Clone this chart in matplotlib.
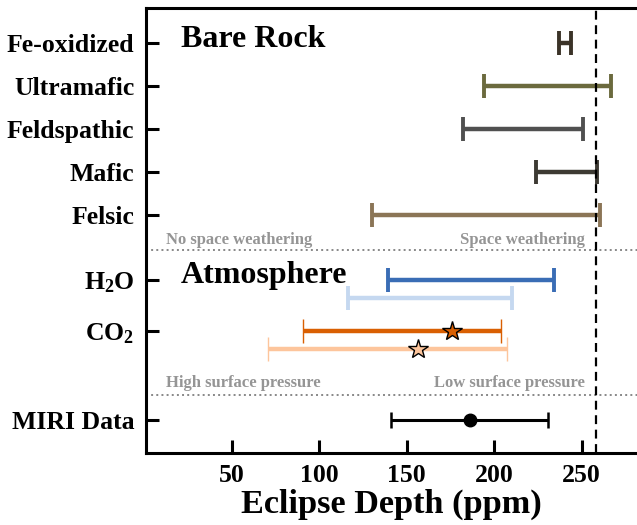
import matplotlib
matplotlib.use("Agg")
import matplotlib.pyplot as plt
import numpy as np

plt.rcParams['font.family'] = ['Liberation Serif', 'DejaVu Serif']
plt.rcParams['font.weight'] = 'bold'
plt.rcParams['mathtext.fontset'] = 'custom'
plt.rcParams['mathtext.rm'] = 'Liberation Serif:bold'
plt.rcParams['mathtext.bf'] = 'Liberation Serif:bold'

# bare rock surfaces: eclipse depth ranges (ppm)
rock_names = ["Fe-oxidized", "Ultramafic", "Feldspathic", "Mafic", "Felsic"]
rock_lo = [237, 194, 182, 224, 130]
rock_hi = [244, 267, 251, 259, 260.5]
rock_colors = ["#3b3328", "#6b6a3e", "#505050", "#3d3a33", "#8b7556"]

# atmospheres: high surface pressure (dark) and low surface pressure (light)
h2o_lo = [139.5, 116.5]
h2o_hi = [234, 210]
co2_lo = [91, 71]
co2_mid = [176, 156.5]
co2_hi = [204, 207.5]

# measured eclipse depth
miri_val = 186
miri_err = 45

max_depth = 258

label_names = rock_names + [r"$\mathbf{H_2O}$", r"$\mathbf{CO_2}$", "MIRI Data"]

fig = plt.figure(figsize=(6.37, 5.25), dpi=100)
ax = fig.add_axes([0.2287, 0.137, 0.7713, 0.848])

ypos = [0, 1, 2, 3, 4, 5.5, 6.7, 8.77]
shift = 0.42
lw = 3.2
cap = 8.5
capw = 2.8

for i in range(len(rock_names)):
    mid = (rock_lo[i] + rock_hi[i]) / 2
    half = (rock_hi[i] - rock_lo[i]) / 2
    ax.errorbar(mid, ypos[i], xerr=half, fmt='none', ecolor=rock_colors[i],
                elinewidth=lw, capsize=cap, capthick=capw)

h2o_cols = ["#3a6db5", "#c5d8f0"]
co2_cols = ["#d95f02", "#fdc59c"]
for k in range(2):
    mid = (h2o_lo[k] + h2o_hi[k]) / 2
    ax.errorbar(mid, ypos[5] + k * shift, xerr=(h2o_hi[k] - h2o_lo[k]) / 2,
                fmt='none', ecolor=h2o_cols[k], elinewidth=lw, capsize=cap, capthick=capw)
    ax.errorbar(co2_mid[k], ypos[6] + k * shift,
                xerr=[[co2_mid[k] - co2_lo[k]], [co2_hi[k] - co2_mid[k]]],
                fmt='*', color=co2_cols[k], ecolor=co2_cols[k], markersize=15,
                markeredgecolor='black', markeredgewidth=1.0,
                elinewidth=lw, capsize=cap, capthick=capw)

ax.errorbar(miri_val, ypos[7], xerr=miri_err, fmt='o', color='black',
            markersize=9, elinewidth=2.2, capsize=6, capthick=1.8)

ax.axvline(max_depth, color='black', linestyle=(0, (4, 2.5)), linewidth=1.6, zorder=5)
ax.axhline(4.81, color='#888888', linestyle=':', linewidth=1.4)
ax.axhline(8.19, color='#888888', linestyle=':', linewidth=1.4)

ax.text(21, 0.09, "Bare Rock", fontsize=23, fontweight='bold')
ax.text(21, 5.58, "Atmosphere", fontsize=23, fontweight='bold')

gray = '#959595'
ax.text(12.5, 4.67, "No space weathering", fontsize=12, color=gray)
ax.text(252, 4.67, "Space weathering", fontsize=12, color=gray, ha='right')
ax.text(12.5, 7.99, "High surface pressure", fontsize=12, color=gray)
ax.text(252, 7.99, "Low surface pressure", fontsize=12, color=gray, ha='right')

ax.set_yticks(ypos)
ax.set_yticklabels(label_names)
ax.set_xticks([50, 100, 150, 200, 250])
ax.set_xlim(0.9, 281.6)
ax.set_ylim(9.53, -0.81)

ax.tick_params(axis='both', direction='in', length=9.5, width=2.2, labelsize=18.5, pad=8)
ax.spines['right'].set_visible(False)
for s in ['left', 'bottom', 'top']:
    ax.spines[s].set_linewidth(2.2)

ax.set_xlabel("Eclipse Depth (ppm)", fontsize=24.7, fontweight='bold', labelpad=1)

fig.savefig("out.png", dpi=100)
